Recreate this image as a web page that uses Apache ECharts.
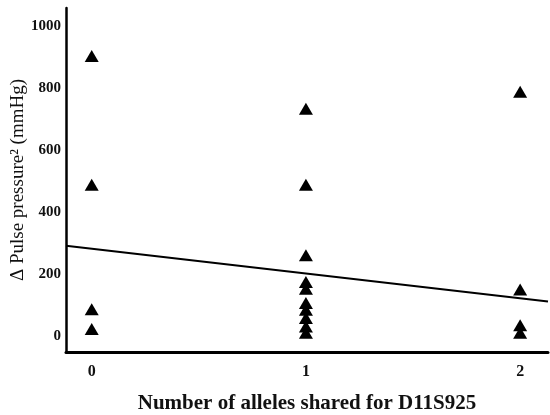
<!DOCTYPE html>
<html>
<head>
<meta charset="utf-8">
<script src="https://cdn.jsdelivr.net/npm/echarts@6/dist/echarts.min.js"></script>
<style>
  html, body { margin: 0; padding: 0; background: #fff; }
  #chart { width: 550px; height: 415px; }
</style>
</head>
<body>
<div id="chart"></div>
<script>
// alleles shared (x) and delta pulse pressure squared (y)
var allelesShared = [0, 0, 0, 0, 1, 1, 1, 1, 1, 1, 1, 1, 1, 1, 2, 2, 2, 2];
var pulsePressure = [905, 490, 88, 24, 735, 490, 262, 176, 154, 108, 86, 60, 32, 12, 790, 152, 36, 12];
var xTicks = [0, 1, 2];
var yTicks = [0, 200, 400, 600, 800, 1000];
// regression line
var fitIntercept = 283;
var fitSlope = -80;
var xMin = -0.12, xMax = 2.13;

var points = allelesShared.map(function (x, i) { return [x, pulsePressure[i]]; });
var fitLine = [xMin, xMax].map(function (x) { return [x, fitIntercept + fitSlope * x]; });

var font = '"Liberation Serif", "Times New Roman", serif';
var chart = echarts.init(document.getElementById('chart'));
chart.setOption({
  animation: false,
  grid: { left: 66, right: 2, top: 8, bottom: 63, outerBoundsMode: 'none' },
  xAxis: {
    type: 'value',
    min: xMin,
    max: xMax,
    name: 'Number of alleles shared for D11S925',
    nameLocation: 'middle',
    nameGap: 41,
    nameMoveOverlap: false,
    nameTextStyle: { fontFamily: font, fontWeight: 'bold', fontSize: 21, color: '#111' },
    axisLine: { onZero: false, lineStyle: { color: '#000', width: 3 } },
    axisTick: { show: false },
    splitLine: { show: false },
    axisLabel: {
      customValues: xTicks,
      margin: 12,
      formatter: function (v) { return String(v); },
      fontFamily: font, fontWeight: 'bold', fontSize: 16, color: '#111'
    }
  },
  yAxis: {
    type: 'value',
    min: -50,
    max: 1060,
    name: 'Δ Pulse pressure² (mmHg)',
    nameLocation: 'middle',
    nameGap: 38,
    nameMoveOverlap: false,
    nameTextStyle: { fontFamily: font, fontSize: 19, color: '#111' },
    axisLine: { show: true, onZero: false, lineStyle: { color: '#000', width: 2.5 } },
    axisTick: { show: false },
    splitLine: { show: false },
    axisLabel: {
      customValues: yTicks,
      margin: 5,
      formatter: function (v) { return String(v); },
      fontFamily: font, fontWeight: 'bold', fontSize: 15, color: '#111'
    }
  },
  series: [
    {
      type: 'scatter',
      data: points,
      symbol: 'triangle',
      symbolSize: [14, 12],
      itemStyle: { color: '#000', opacity: 1 }
    },
    {
      type: 'line',
      data: fitLine,
      symbol: 'none',
      lineStyle: { color: '#000', width: 2 }
    }
  ]
});
</script>
</body>
</html>
